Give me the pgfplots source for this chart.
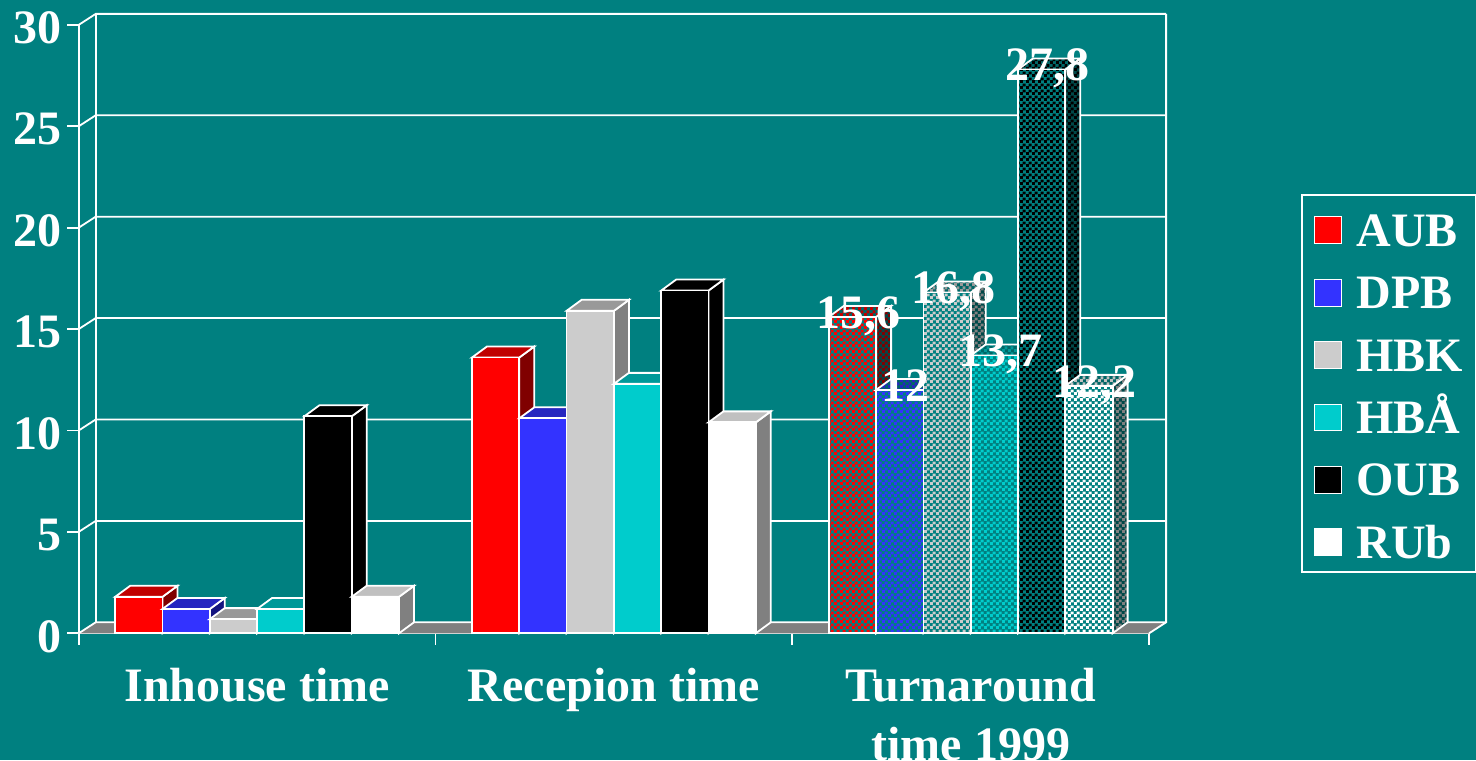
\documentclass[border=0pt]{standalone}
\usepackage{fontspec}
\setmainfont{Liberation Serif}
\usepackage{pgfplots}
\pgfplotsset{compat=1.18}
\usepackage{pgfplotstable}
\usetikzlibrary{patterns}

\definecolor{bg}{HTML}{008080}
\definecolor{floorgray}{HTML}{808080}
\definecolor{aubF}{HTML}{FF0000}\definecolor{aubT}{HTML}{C00000}\definecolor{aubS}{HTML}{800000}
\definecolor{dpbF}{HTML}{3333FF}\definecolor{dpbT}{HTML}{2626C0}\definecolor{dpbS}{HTML}{141480}
\definecolor{hbkF}{HTML}{CCCCCC}\definecolor{hbkT}{HTML}{999999}\definecolor{hbkS}{HTML}{808080}
\definecolor{hbaF}{HTML}{00CCCC}\definecolor{hbaT}{HTML}{009999}\definecolor{hbaS}{HTML}{006666}
\definecolor{oubF}{HTML}{000000}\definecolor{oubT}{HTML}{000000}\definecolor{oubS}{HTML}{000000}
\definecolor{rubF}{HTML}{FFFFFF}\definecolor{rubT}{HTML}{C0C0C0}\definecolor{rubS}{HTML}{808080}
\definecolor{ditherF}{HTML}{008080}\definecolor{ditherT}{HTML}{006666}\definecolor{ditherS}{HTML}{004848}

\newcommand\bigfont{\fontsize{24}{29.5}\selectfont\bfseries}

% geometry of the 3-D boxes and walls
\def\yu{10.14pt}   % one unit on the value axis
\def\bhw{11.83pt}  % half bar width
\def\bdx{7.5pt}    % bar depth offset
\def\bdy{5.5pt}
\def\wdx{8.5pt}    % wall depth offset
\def\wdy{5.5pt}

% checkerboard used for the dithered boxes (coloured squares cover about 60%)
\pgfdeclarepatternformonly{finechecker}{\pgfqpoint{0pt}{0pt}}{\pgfqpoint{3pt}{3pt}}{\pgfqpoint{3pt}{3pt}}{%
  \pgfpathrectangle{\pgfqpoint{0pt}{0pt}}{\pgfqpoint{1.65pt}{1.65pt}}%
  \pgfpathrectangle{\pgfqpoint{1.5pt}{1.5pt}}{\pgfqpoint{1.65pt}{1.65pt}}%
  \pgfusepath{fill}}

% faces of a box whose front top edge is centred on the data point
\def\frontpath{\pgfpathrectanglecorners{\pgfpoint{-\bhw}{-\bh}}{\pgfpoint{\bhw}{0pt}}}
\def\toppath{\pgfpathmoveto{\pgfpoint{-\bhw}{0pt}}\pgfpathlineto{\pgfpoint{\bhw}{0pt}}%
  \pgfpathlineto{\pgfpoint{\bhw+\bdx}{\bdy}}\pgfpathlineto{\pgfpoint{-\bhw+\bdx}{\bdy}}\pgfpathclose}
\def\sidepath{\pgfpathmoveto{\pgfpoint{\bhw}{0pt}}\pgfpathlineto{\pgfpoint{\bhw+\bdx}{\bdy}}%
  \pgfpathlineto{\pgfpoint{\bhw+\bdx}{\bdy-\bh}}\pgfpathlineto{\pgfpoint{\bhw}{-\bh}}\pgfpathclose}

\newcommand\solidbox[4]{%
  \pgfdeclareplotmark{#1}{%
    \pgfmathsetlengthmacro\bh{\barval*\yu}%
    \pgfsetlinewidth{0.9pt}\pgfsetstrokecolor{white}\pgfsetmiterjoin
    \sidepath\pgfsetfillcolor{#4}\pgfusepath{fill,stroke}%
    \toppath\pgfsetfillcolor{#3}\pgfusepath{fill,stroke}%
    \frontpath\pgfsetfillcolor{#2}\pgfusepath{fill,stroke}}}
\newcommand\ditherbox[4]{%
  \pgfdeclareplotmark{#1}{%
    \pgfmathsetlengthmacro\bh{\barval*\yu}%
    \pgfsetlinewidth{0.9pt}\pgfsetstrokecolor{white}\pgfsetmiterjoin
    \sidepath\pgfsetfillcolor{ditherS}\pgfusepath{fill}%
    \sidepath\pgfsetfillpattern{finechecker}{#4}\pgfusepath{fill,stroke}%
    \toppath\pgfsetfillcolor{ditherT}\pgfusepath{fill}%
    \toppath\pgfsetfillpattern{finechecker}{#3}\pgfusepath{fill,stroke}%
    \frontpath\pgfsetfillcolor{ditherF}\pgfusepath{fill}%
    \frontpath\pgfsetfillpattern{finechecker}{#2}\pgfusepath{fill,stroke}}}

\solidbox{sAUB}{aubF}{aubT}{aubS}\ditherbox{dAUB}{aubF}{aubT}{aubS}
\solidbox{sDPB}{dpbF}{dpbT}{dpbS}\ditherbox{dDPB}{dpbF}{dpbT}{dpbS}
\solidbox{sHBK}{hbkF}{hbkT}{hbkS}\ditherbox{dHBK}{hbkF}{hbkT}{hbkS}
\solidbox{sHBA}{hbaF}{hbaT}{hbaS}\ditherbox{dHBA}{hbaF}{hbaT}{hbaS}
\solidbox{sOUB}{oubF}{oubT}{oubS}\ditherbox{dOUB}{oubF}{oubT}{oubS}
\solidbox{sRUb}{rubF}{rubT}{rubS}\ditherbox{dRUb}{rubF}{rubT}{rubS}

\pgfplotsset{
  legsq/.style={legend image code/.code={%
    \draw[white,line width=0.5pt,fill=#1] (0pt,-8.235pt) rectangle (13.35pt,5.115pt);}},
  boxplot/.style={only marks, forget plot, mark=#1, visualization depends on={y\as\barval}},
  labelplot/.style={draw=none, mark=none, forget plot, point meta=y,
    nodes near coords={\pgfmathprintnumber[use comma]{\pgfplotspointmeta}},
    nodes near coords style={anchor=base, xshift=3pt, yshift=-5.6pt, inner sep=0pt,
      font=\bigfont, text=white}},
}

% days per library: inhouse and reception time
\pgfplotstableread{
cat AUB DPB HBK HBA OUB RUb
0 1.8 1.2 0.7 1.2 10.7 1.8
1 13.6 10.6 15.9 12.3 16.9 10.4
}\timetable
% turnaround time 1999
\pgfplotstableread{
cat AUB DPB HBK HBA OUB RUb
2 15.6 12 16.8 13.7 27.8 12.2
}\turntable

\begin{document}
\begin{tikzpicture}
\path[fill=bg, use as bounding box] (-39.35pt,-63.35pt) rectangle (698.65pt,316.65pt);
\begin{axis}[
  at={(0pt,0pt)}, anchor=south west,
  x=178.4pt, y=10.14pt,
  xmin=-0.5, xmax=2.5, ymin=0, ymax=30,
  clip=false,
  axis x line*=bottom, axis y line*=left,
  axis line style={white, line width=0.9pt, -},
  tick align=outside,
  major tick length=5.6pt,
  tick style={white, line width=0.9pt},
  xtick={-0.5,0.5,1.5,2.5}, xticklabels={},
  ytick={0,5,...,30},
  extra x ticks={0,1,2},
  extra x tick labels={Inhouse time,Recepion time,{Turnaround\\time 1999}},
  extra x tick style={tick style={draw=none}},
  /pgf/number format/assume math mode=true,
  ticklabel style={font=\bigfont, text=white},
  yticklabel style={anchor=east, inner sep=0pt, xshift=-3pt, yshift=-1.5pt},
  xticklabel style={anchor=north, align=center, inner sep=0pt, yshift=-11.85pt},
  legend style={at={(1.1417,0.7222)}, anchor=north west, draw=white, line width=0.9pt,
    fill=none, text=white, font=\bigfont, inner xsep=6.3pt, inner ysep=6.7pt,
    row sep=12.2pt, column sep=7.2pt,
    nodes={inner xsep=0pt, inner ysep=0pt, text height=19pt, text depth=0pt}},
  legend cell align=left,
]
% floor, back wall and side wall
\fill[floorgray] (axis cs:-0.5,0) -- (axis cs:2.5,0)
  -- ([xshift=\wdx,yshift=\wdy]axis cs:2.5,0) -- ([xshift=\wdx,yshift=\wdy]axis cs:-0.5,0) -- cycle;
\pgfplotsinvokeforeach{0,5,...,30}{
  \draw[white, line width=0.9pt] (axis cs:-0.5,#1) -- ([xshift=\wdx,yshift=\wdy]axis cs:-0.5,#1)
    -- ([xshift=\wdx,yshift=\wdy]axis cs:2.5,#1);
}
\draw[white, line width=0.9pt] ([xshift=\wdx,yshift=\wdy]axis cs:-0.5,0) -- ([xshift=\wdx,yshift=\wdy]axis cs:-0.5,30);
\draw[white, line width=0.9pt] (axis cs:2.5,0) -- ([xshift=\wdx,yshift=\wdy]axis cs:2.5,0)
  -- ([xshift=\wdx,yshift=\wdy]axis cs:2.5,30);

% legend
\addlegendimage{legsq=aubF}\addlegendentry{AUB}
\addlegendimage{legsq=dpbF}\addlegendentry{DPB}
\addlegendimage{legsq=hbkF}\addlegendentry{HBK}
\addlegendimage{legsq=hbaF}\addlegendentry{HBÅ}
\addlegendimage{legsq=oubF}\addlegendentry{OUB}
\addlegendimage{legsq=rubF}\addlegendentry{RUb}

% solid boxes: inhouse and reception time
\addplot[boxplot=sAUB] table[x expr=\thisrow{cat}-0.33142, y=AUB]{\timetable};
\addplot[boxplot=sDPB] table[x expr=\thisrow{cat}-0.19885, y=DPB]{\timetable};
\addplot[boxplot=sHBK] table[x expr=\thisrow{cat}-0.06628, y=HBK]{\timetable};
\addplot[boxplot=sHBA] table[x expr=\thisrow{cat}+0.06628, y=HBA]{\timetable};
\addplot[boxplot=sOUB] table[x expr=\thisrow{cat}+0.19885, y=OUB]{\timetable};
\addplot[boxplot=sRUb] table[x expr=\thisrow{cat}+0.33142, y=RUb]{\timetable};

% dithered boxes: turnaround time
\addplot[boxplot=dAUB] table[x expr=\thisrow{cat}-0.33142, y=AUB]{\turntable};
\addplot[boxplot=dDPB] table[x expr=\thisrow{cat}-0.19885, y=DPB]{\turntable};
\addplot[boxplot=dHBK] table[x expr=\thisrow{cat}-0.06628, y=HBK]{\turntable};
\addplot[boxplot=dHBA] table[x expr=\thisrow{cat}+0.06628, y=HBA]{\turntable};
\addplot[boxplot=dOUB] table[x expr=\thisrow{cat}+0.19885, y=OUB]{\turntable};
\addplot[boxplot=dRUb] table[x expr=\thisrow{cat}+0.33142, y=RUb]{\turntable};

% value labels on top of everything
\addplot[labelplot] table[x expr=\thisrow{cat}-0.33142, y=AUB]{\turntable};
\addplot[labelplot] table[x expr=\thisrow{cat}-0.19885, y=DPB]{\turntable};
\addplot[labelplot] table[x expr=\thisrow{cat}-0.06628, y=HBK]{\turntable};
\addplot[labelplot] table[x expr=\thisrow{cat}+0.06628, y=HBA]{\turntable};
\addplot[labelplot] table[x expr=\thisrow{cat}+0.19885, y=OUB]{\turntable};
\addplot[labelplot] table[x expr=\thisrow{cat}+0.33142, y=RUb]{\turntable};
\end{axis}
\end{tikzpicture}
\end{document}
